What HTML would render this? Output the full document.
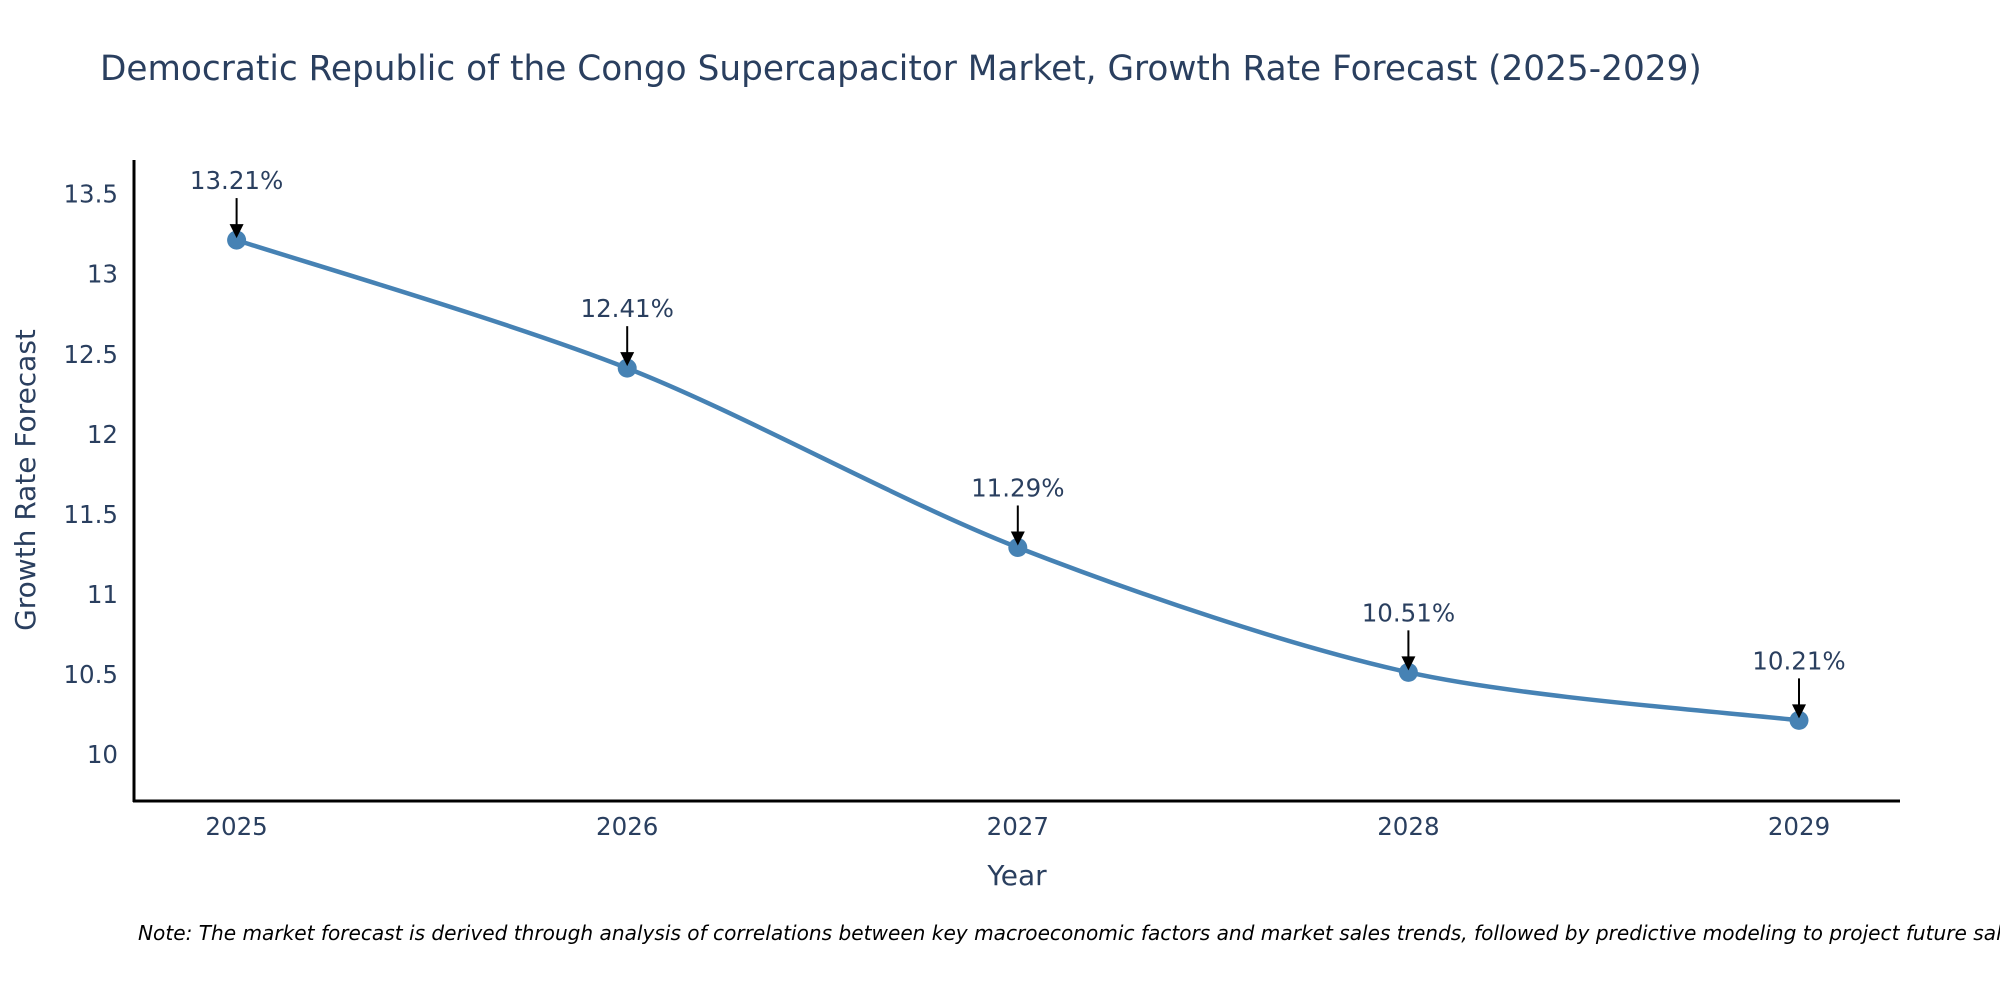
<!DOCTYPE html>
<html><head><meta charset="utf-8">
<style>
body{margin:0;background:#fff;}
svg{display:block;font-family:"DejaVu Sans","Liberation Sans",sans-serif;}
</style></head>
<body>
<svg id="chart" width="2000" height="1000" viewBox="0 0 2000 1000" xmlns="http://www.w3.org/2000/svg">
<rect width="2000" height="1000" fill="#fff"/>
<text x="100" y="80" font-size="34.3" fill="#2a3f5f">Democratic Republic of the Congo Supercapacitor Market, Growth Rate Forecast (2025-2029)</text>
<g id="yticks"></g><g id="xticks"></g>
<line x1="134" y1="160" x2="134" y2="802" stroke="#000" stroke-width="3"/>
<line x1="133" y1="801" x2="1900" y2="801" stroke="#000" stroke-width="3"/>
<text transform="translate(35,480) rotate(-90)" text-anchor="middle" font-size="28" fill="#2a3f5f">Growth Rate Forecast</text>
<text x="1017" y="885" text-anchor="middle" font-size="28" fill="#2a3f5f">Year</text>
<path id="line" fill="none" stroke="#4682B4" stroke-width="4.5"/>
<g id="marks"></g>
<text x="138" y="940" font-size="20.1" font-style="italic" fill="#000">Note: The market forecast is derived through analysis of correlations between key macroeconomic factors and market sales trends, followed by predictive modeling to project future sales.</text>
</svg>
<script>
const years = [2025, 2026, 2027, 2028, 2029];
const rates = [13.21, 12.41, 11.29, 10.51, 10.21];
const labels = ["13.21%", "12.41%", "11.29%", "10.51%", "10.21%"];
const yTickVals = [10, 10.5, 11, 11.5, 12, 12.5, 13, 13.5];
const yTickLabels = ["10", "10.5", "11", "11.5", "12", "12.5", "13", "13.5"];

const NS = "http://www.w3.org/2000/svg";
function xs(v){ return 236.6 + (v - 2025) * 390.6; }
function ys(v){ return 754 - (v - 10) * 160.1; }
function mk(tag, attrs, parent){ const e = document.createElementNS(NS, tag); for (const k in attrs) e.setAttribute(k, attrs[k]); parent.appendChild(e); return e; }

const yg = document.getElementById("yticks");
yTickVals.forEach((v, i) => {
  const t = mk("text", {x: 118, y: ys(v) + 9, "text-anchor": "end", "font-size": 24.5, fill: "#2a3f5f"}, yg);
  
  
  t.textContent = yTickLabels[i];
});
const xg = document.getElementById("xticks");
years.forEach(v => {
  const t = mk("text", {x: xs(v), y: 835, "text-anchor": "middle", "font-size": 24.5, fill: "#2a3f5f"}, xg);
  
  
  t.textContent = v;
});

const pts = years.map((y, i) => [xs(y), ys(rates[i])]);
let d = "M" + pts[0][0] + "," + pts[0][1];
const s = 0.15;
for (let i = 0; i < pts.length - 1; i++) {
  const p0 = pts[Math.max(i - 1, 0)], p1 = pts[i], p2 = pts[i + 1], p3 = pts[Math.min(i + 2, pts.length - 1)];
  const c1 = [p1[0] + (p2[0] - p0[0]) * s, p1[1] + (p2[1] - p0[1]) * s];
  const c2 = [p2[0] - (p3[0] - p1[0]) * s, p2[1] - (p3[1] - p1[1]) * s];
  d += " C" + c1[0] + "," + c1[1] + " " + c2[0] + "," + c2[1] + " " + p2[0] + "," + p2[1];
}
document.getElementById("line").setAttribute("d", d);

const mg = document.getElementById("marks");
pts.forEach((p, i) => {
  const c = mk("circle", {cx: p[0], cy: p[1], r: 9.5, fill: "#4682B4"}, mg);
  
  
  const ln = mk("line", {x1: p[0], y1: p[1] - 42, x2: p[0], y2: p[1] - 14, stroke: "#000", "stroke-width": 2}, mg);
  
  
  const ah = mk("polygon", {points: (p[0]-7)+","+(p[1]-16)+" "+(p[0]+7)+","+(p[1]-16)+" "+p[0]+","+(p[1]-2)}, mg);
  
  
  const t = mk("text", {x: p[0], y: p[1] - 51, "text-anchor": "middle", "font-size": 24.5, fill: "#2a3f5f"}, mg);
  
  
  t.textContent = labels[i];
});
</script>
</body></html>
